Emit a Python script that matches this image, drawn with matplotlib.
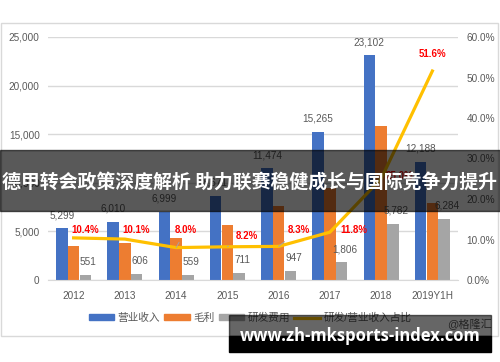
import numpy as np
import matplotlib.pyplot as plt
from matplotlib.patches import Rectangle, Patch
from matplotlib.lines import Line2D

plt.rcParams['font.family'] = ['Liberation Sans', 'Noto Sans CJK SC', 'DejaVu Sans']

years = ['2012', '2013', '2014', '2015', '2016', '2017', '2018', '2019Y1H']
revenue = [5299, 6010, 6999, 8671, 11474, 15265, 23102, 12188]
gross_profit = [3500, 3800, 4350, 5650, 7600, 9450, 15850, 7900]
rd_cost = [551, 606, 559, 711, 947, 1806, 5782, 6284]
rd_ratio = [10.4, 10.1, 8.0, 8.2, 8.3, 11.8, 25.0, 51.6]
legend_names = ['营业收入', '毛利', '研发费用', '研发/营业收入占比']

# label offsets for the ratio labels (pixels)
ratio_off = [(12, 8), (11, 9), (10, 18), (20, 11), (20, 16), (24, 2), (18, 3), (0, 17)]

W, H = 500, 362
fig = plt.figure(figsize=(5, 3.62), dpi=100)
ax = fig.add_axes([48 / W, 1 - 280 / H, 410 / W, 243 / H])
ax2 = ax.twinx()

grey_txt = '#595959'
x = np.arange(len(years))
bw = 0.225
ax.bar(x - 0.23, revenue, bw, color='#4472C4', zorder=2)
ax.bar(x, gross_profit, bw, color='#ED7D31', zorder=2)
ax.bar(x + 0.23, rd_cost, bw, color='#A5A5A5', zorder=2)

for i in range(len(years)):
    ax.annotate('{:,}'.format(revenue[i]), (x[i] - 0.23, revenue[i]), xytext=(0, 13),
                textcoords='offset pixels', ha='center', va='center', fontsize=7.2, color=grey_txt)
    ax.annotate('{:,}'.format(rd_cost[i]), (x[i] + 0.23, rd_cost[i]), xytext=(3, 13),
                textcoords='offset pixels', ha='center', va='center', fontsize=7.2, color=grey_txt)

ax.set_ylim(0, 25000)
ax.set_yticks(np.arange(0, 25001, 5000))
ax.set_yticklabels(['{:,}'.format(v) for v in range(0, 25001, 5000)])
ax.set_xlim(-0.5, len(years) - 0.5)
ax.set_xticks(x)
ax.set_xticklabels(years)
ax.grid(axis='y', color='#D9D9D9', lw=1, zorder=0)
ax.set_axisbelow(True)
for s in ['top', 'left', 'right']:
    ax.spines[s].set_visible(False)
    ax2.spines[s].set_visible(False)
ax.spines['bottom'].set_color('#D9D9D9')
ax2.spines['bottom'].set_visible(False)
ax.tick_params(length=0, labelsize=7.2, labelcolor=grey_txt, pad=6)
ax.tick_params(axis='x', pad=8)

ratio = np.array(rd_ratio) / 100
ax2.plot(x, ratio, color='#FFC000', lw=2.3, zorder=3)
ax2.set_ylim(0, 0.6)
ax2.set_yticks(np.arange(0, 0.61, 0.1))
ax2.set_yticklabels(['{:.1f}%'.format(v * 100) for v in np.arange(0, 0.61, 0.1)])
ax2.tick_params(length=0, labelsize=7.2, labelcolor=grey_txt, pad=6)
for i in range(len(years)):
    dx, dy = ratio_off[i]
    arrow = dict(arrowstyle='-', color='#A5A5A5', lw=0.7, shrinkA=4, shrinkB=0) if dy > 10 and dx > 5 else None
    ax2.annotate('{:.1f}%'.format(rd_ratio[i]), (x[i], ratio[i]), xytext=(dx, dy),
                 textcoords='offset pixels', ha='center', va='center', fontsize=7,
                 fontweight='bold', color='#FF0000', arrowprops=arrow)

handles = [Patch(color='#4472C4'), Patch(color='#ED7D31'), Patch(color='#A5A5A5'),
           Line2D([0], [0], color='#FFC000', lw=2.3)]
leg = ax.legend(handles, legend_names, ncol=4, frameon=False, loc='center',
                bbox_to_anchor=(250 / W, 1 - 318 / H), bbox_transform=fig.transFigure,
                fontsize=7.7, handlelength=2.4, handleheight=0.5, handletextpad=0.3,
                columnspacing=0.4, labelcolor=grey_txt)

# chart frame
fig.patches.append(Rectangle((1 / W, 1 - 336 / H), 497 / W, 313 / H, transform=fig.transFigure,
                             fill=False, edgecolor='#D9D9D9', lw=1, zorder=1))
fig.text(492 / W, 1 - 324 / H, '@格隆汇', ha='right', va='center', fontsize=8,
         color=grey_txt, zorder=2)

# banner overlay
fig.patches.append(Rectangle((0, 1 - 211 / H), 1, 61 / H, transform=fig.transFigure,
                             color='black', alpha=0.65, zorder=10))
fig.text(0.5, 1 - 182 / H, '德甲转会政策深度解析 助力联赛稳健成长与国际竞争力提升',
         ha='center', va='center', fontsize=13.6, fontweight='bold', color='white',
         family=['Noto Sans CJK SC', 'DejaVu Sans'], zorder=11)

# watermark
fig.patches.append(Rectangle((229 / W, 1 - 336 / H), 262 / W, 21 / H, transform=fig.transFigure,
                             color='black', alpha=0.6, zorder=10))
fig.patches.append(Rectangle((229 / W, 1 - 352 / H), 262 / W, 16 / H, transform=fig.transFigure,
                             color='black', zorder=10))
fig.text(360 / W, 1 - 336 / H, 'www.zh-mksports-index.com', ha='center', va='center',
         fontsize=12, fontweight='bold', color='white', family='Open Sans', zorder=11)

fig.savefig('out.png', dpi=100)
